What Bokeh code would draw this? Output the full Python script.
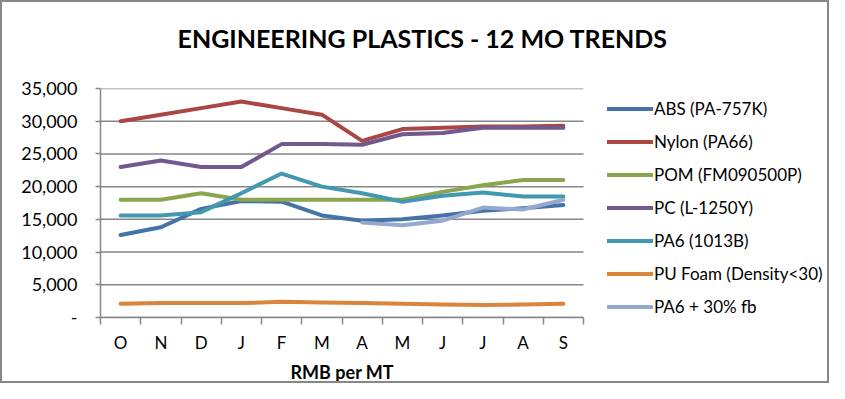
from bokeh.plotting import figure
from bokeh.models import (ColumnDataSource, Range1d, FixedTicker, CustomJSTickFormatter,
                          Legend, LegendItem, Title)
from bokeh.embed import file_html
from bokeh.resources import INLINE

NAN = float("nan")
months = ["O", "N", "D", "J", "F", "M", "A", "M", "J", "J", "A", "S"]
y_ticks = [0, 5000, 10000, 15000, 20000, 25000, 30000, 35000]

abs_pa757k = [12600, 13800, 16600, 17800, 17700, 15600, 14800, 15000, 15600, 16300, 16700, 17200]
nylon_pa66 = [30000, 31000, 32000, 33000, 32000, 31000, 27000, 28800, 29000, 29200, 29200, 29300]
pom = [18000, 18000, 19000, 18000, 18000, 18000, 18000, 18000, 19200, 20200, 21000, 21000]
pc = [23000, 24000, 23000, 23000, 26500, 26500, 26400, 28000, 28200, 29000, 29000, 29000]
pa6 = [15600, 15600, 16100, 19000, 22000, 20000, 19000, 17700, 18600, 19100, 18500, 18500]
pu_foam = [2100, 2200, 2200, 2200, 2400, 2300, 2200, 2100, 2000, 1900, 2000, 2100]
pa6_fb = [NAN, NAN, NAN, NAN, NAN, NAN, 14500, 14100, 14800, 16800, 16500, 18000]

series = [
    ("ABS (PA-757K)", abs_pa757k, "#4572A7"),
    ("Nylon (PA66)", nylon_pa66, "#AA4643"),
    ("POM (FM090500P)", pom, "#89A54E"),
    ("PC (L-1250Y)", pc, "#71588F"),
    ("PA6 (1013B)", pa6, "#4198AF"),
    ("PU Foam (Density<30)", pu_foam, "#DB843D"),
    ("PA6 + 30% fb", pa6_fb, "#93A9CF"),
]

FONT = "Lato"
GRID = "#868686"

# layout: plot area for the 12 months is 483px wide; frame extends right to host the legend
W, H = 829, 383
LEFT, TOP, RIGHT, BOTTOM = 98, 86, 4, 65
PLOT_W = 483
frame_w = W - LEFT - RIGHT
n = len(months)
x_end = n * frame_w / PLOT_W

p = figure(width=W, height=H, output_backend="svg", toolbar_location=None,
           x_range=Range1d(0, x_end), y_range=Range1d(0, 35000),
           min_border_left=LEFT, min_border_right=RIGHT, min_border_top=TOP,
           min_border_bottom=BOTTOM)
p.outline_line_color = None
p.background_fill_color = "white"
p.border_fill_color = "white"
p.styles = {"border": "2px solid #878787"}

# horizontal gridlines limited to the month area
grid_src = ColumnDataSource(dict(x0=[0] * len(y_ticks), x1=[n] * len(y_ticks), y=y_ticks))
p.segment(x0="x0", x1="x1", y0="y", y1="y", source=grid_src, line_color=GRID, line_width=1.5)

x_pos = [i + 0.5 for i in range(n)]
items = []
for name, vals, color in series:
    src = ColumnDataSource(dict(x=x_pos, y=vals))
    r = p.line("x", "y", source=src, line_color=color, line_width=4, line_join="round", line_cap="round")
    items.append(LegendItem(label=name, renderers=[r]))

# x axis
p.xaxis.bounds = (0, n)
p.xaxis.ticker = FixedTicker(ticks=x_pos, minor_ticks=list(range(n + 1)))
p.xaxis.formatter = CustomJSTickFormatter(args=dict(months=months),
                                          code="return months[Math.floor(tick)];")
p.xaxis.major_tick_out = 0
p.xaxis.major_tick_in = 0
p.xaxis.minor_tick_out = 7
p.xaxis.minor_tick_in = 0
p.xaxis.minor_tick_line_color = GRID
p.xaxis.minor_tick_line_width = 1.5
p.xaxis.axis_line_color = GRID
p.xaxis.axis_line_width = 1.5
p.xaxis.major_label_text_font = FONT
p.xaxis.major_label_text_font_size = "17px"
p.xaxis.major_label_text_color = "black"
p.xaxis.major_label_standoff = 7

# x axis title, centred under the month area
p.add_layout(Title(text="RMB per MT", align="left", offset=190, text_font=FONT,
                   text_font_style="bold", text_font_size="18px", text_color="black",
                   standoff=6), "below")

# y axis
p.yaxis.ticker = FixedTicker(ticks=y_ticks, minor_ticks=[])
p.yaxis.formatter = CustomJSTickFormatter(
    code="return tick == 0 ? '-' : tick.toLocaleString('en-US');")
p.yaxis.major_tick_out = 5
p.yaxis.major_tick_in = 0
p.yaxis.major_tick_line_color = GRID
p.yaxis.major_tick_line_width = 1.5
p.yaxis.axis_line_color = GRID
p.yaxis.axis_line_width = 1.5
p.yaxis.major_label_text_font = FONT
p.yaxis.major_label_text_font_size = "18px"
p.yaxis.major_label_text_color = "black"
p.yaxis.major_label_standoff = 18

p.xgrid.grid_line_color = None
p.ygrid.grid_line_color = None

# spacer (inner) then the real title (outer)
p.add_layout(Title(text=" ", text_font_size="1px", standoff=29), "above")
title = Title(text="ENGINEERING PLASTICS - 12 MO TRENDS", align="left", offset=77,
              text_font=FONT, text_font_style="bold", text_font_size="25px",
              text_color="black", standoff=8)
p.add_layout(title, "above")

legend = Legend(items=items, location=(507, 0.5), orientation="vertical",
                label_text_font=FONT, label_text_font_size="17px", label_text_color="black",
                glyph_width=46, glyph_height=21, label_height=21, label_standoff=1,
                spacing=12, padding=0, margin=0, border_line_color=None,
                background_fill_alpha=0)
p.add_layout(legend, "center")

open("out.html", "w").write(file_html(p, INLINE))
